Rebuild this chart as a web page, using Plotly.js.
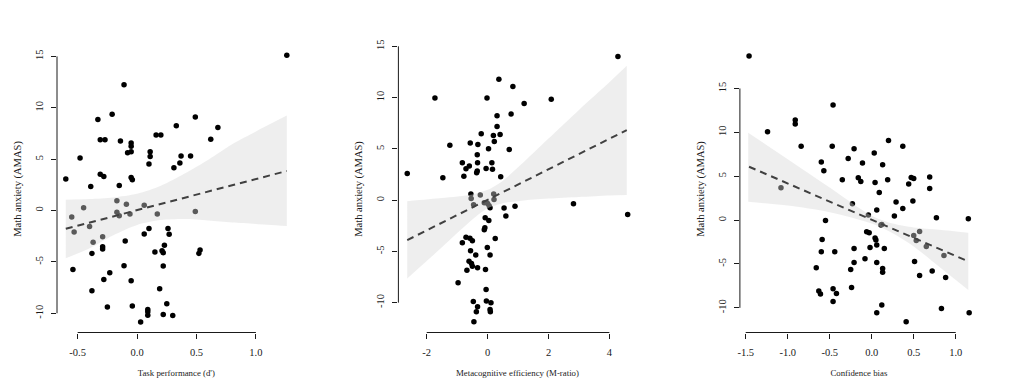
<!DOCTYPE html>
<html>
<head>
<meta charset="utf-8">
<script src="https://cdn.plot.ly/plotly-3.0.1.min.js"></script>
<style>
  html, body { margin: 0; padding: 0; background: #fff; }
  #chart { width: 1024px; height: 390px; }
</style>
</head>
<body>
<div id="chart"></div>
<script>
// ---------- Panel 1: Task performance (d') ----------
const p1x = [-0.60,-0.55,-0.53,-0.54,-0.48,-0.45,-0.40,-0.39,-0.38,-0.38,-0.37,-0.33,-0.31,-0.27,-0.31,-0.28,-0.29,-0.29,-0.29,-0.28,
  -0.23,-0.25,-0.21,-0.17,-0.17,-0.15,-0.15,-0.14,-0.11,-0.11,-0.10,-0.09,-0.08,-0.05,-0.05,-0.05,-0.05,-0.04,-0.06,-0.05,
  -0.04,0.03,0.06,0.06,0.09,0.09,0.09,0.10,0.10,0.11,0.11,0.15,0.16,0.17,0.19,0.20,0.21,0.22,0.22,0.22,
  0.23,0.25,0.26,0.27,0.30,0.31,0.33,0.36,0.37,0.45,0.49,0.49,0.52,0.53,0.62,0.68,1.26];
const p1y = [3.06,-0.62,-2.08,-5.73,5.11,0.26,-1.56,2.34,-4.17,-7.81,-3.09,8.85,6.90,6.90,3.52,3.32,-2.54,-3.52,-3.74,-6.71,
  -6.05,-9.38,9.38,0.94,-0.16,-0.52,2.44,6.77,12.24,-5.37,-2.96,0.62,5.63,5.73,6.58,6.25,3.22,2.99,-0.33,-6.84,
  -9.28,-10.84,0.52,-2.28,-9.64,-10.19,-9.86,-1.76,4.52,5.73,5.27,-4.04,7.36,-0.33,-7.62,7.36,-3.91,-4.10,-10.12,-5.40,
  -3.39,-9.08,-1.76,-2.31,-10.22,4.17,8.24,4.62,5.31,5.31,9.11,-0.10,-4.17,-3.84,6.93,8.07,15.10];
const p1LineX = [-0.60, 1.26];
const p1LineY = [-1.78, 3.85];
const p1BandX = [-0.60,-0.40,-0.20,0.00,0.20,0.40,0.60,0.80,1.00,1.26];
const p1BandUp = [1.05,1.11,1.27,1.63,2.41,3.60,4.95,6.45,7.70,9.24];
const p1BandLo = [-4.65,-3.67,-2.40,-1.40,-0.93,-0.83,-0.97,-1.17,-1.30,-1.50];
const p1XTicks = [-0.5, 0.0, 0.5, 1.0];
const p1XLabels = ["-0.5", "0.0", "0.5", "1.0"];

// ---------- Panel 2: Metacognitive efficiency (M-ratio) ----------
const p2x = [-2.64,-1.73,-1.47,-1.24,-0.97,-0.83,-0.83,-0.78,-0.71,-0.71,-0.68,-0.60,-0.57,-0.58,-0.56,-0.55,-0.54,-0.50,-0.61,-0.53,
  -0.50,-0.47,-0.46,-0.45,-0.39,-0.37,-0.36,-0.34,-0.34,-0.33,-0.32,-0.33,-0.33,-0.24,-0.21,-0.11,-0.11,-0.09,-0.08,-0.07,
  -0.05,-0.05,-0.04,-0.02,-0.01,0.00,0.03,0.04,0.05,0.08,0.08,0.08,0.09,0.11,0.14,0.16,0.19,0.20,0.21,0.22,
  0.25,0.31,0.31,0.37,0.41,0.43,0.54,0.60,0.71,0.77,0.83,0.90,1.20,2.09,2.82,4.28,4.60];
const p2y = [2.60,9.95,2.18,5.36,-8.06,3.64,-4.16,2.34,3.06,-3.61,-6.83,3.32,5.56,-3.71,-4.94,0.59,0.16,-3.97,-5.95,-6.18,
  -6.44,-9.88,-0.46,-11.87,-5.36,-10.89,2.67,2.83,4.42,3.64,5.43,-6.60,-10.40,0.49,6.47,-0.26,-2.89,-2.70,-1.72,-6.76,
  3.09,-8.71,-9.85,9.95,-4.62,-0.33,5.01,-1.98,-0.55,-0.75,-5.36,-10.66,-10.89,-10.01,3.64,3.02,6.31,0.59,0.07,5.72,
  -3.74,8.23,7.18,11.80,6.40,2.28,-0.78,-1.56,4.94,8.39,11.09,-0.59,9.43,9.85,-0.36,14.01,-1.40];
const p2LineX = [-2.64, 4.57];
const p2LineY = [-3.90, 6.83];
const p2BandX = [-2.64,-1.50,-0.50,0.00,0.50,1.00,1.50,2.00,3.00,4.00,4.57];
const p2BandUp = [-0.10,0.20,0.55,1.00,1.90,3.20,4.60,6.00,8.80,11.50,13.10];
const p2BandLo = [-7.64,-4.60,-1.90,-0.80,-0.30,-0.10,0.05,0.15,0.30,0.45,0.49];
const p2XTicks = [-2, 0, 2, 4];
const p2XLabels = ["-2", "0", "2", "4"];

// ---------- Panel 3: Confidence bias ----------
const p3x = [-1.46,-1.24,-1.08,-0.91,-0.91,-0.84,-0.66,-0.63,-0.61,-0.60,-0.59,-0.60,-0.57,-0.55,-0.47,-0.46,-0.46,-0.46,-0.44,-0.42,
  -0.35,-0.28,-0.25,-0.24,-0.23,-0.21,-0.21,-0.21,-0.16,-0.13,-0.11,-0.08,-0.06,-0.04,-0.03,-0.02,0.03,0.04,0.04,0.05,
  0.06,0.06,0.06,0.06,0.09,0.11,0.12,0.12,0.13,0.13,0.13,0.15,0.19,0.20,0.27,0.29,0.37,0.37,0.41,0.44,
  0.47,0.49,0.50,0.50,0.51,0.53,0.57,0.57,0.65,0.69,0.69,0.72,0.77,0.83,0.86,0.88,1.15,1.16];
const p3y = [18.69,10.07,3.69,11.40,10.94,8.43,-5.43,-8.09,-8.43,6.61,-2.20,-3.61,5.62,-0.04,8.43,13.11,-7.83,-9.27,-3.61,-8.36,
  4.60,7.03,-5.62,-7.67,1.86,8.13,-3.23,-4.83,4.83,4.41,6.50,-4.41,-1.33,0.57,-1.44,-3.12,7.64,4.29,-2.05,-2.28,
  1.14,-2.85,-4.83,-10.56,3.15,-0.57,-0.49,-9.69,6.31,-5.51,-5.93,-3.23,4.60,9.08,0.46,2.05,8.43,1.33,-11.59,4.10,
  4.86,2.17,4.75,-1.75,-4.71,-2.32,-1.29,-6.31,-3.00,4.90,3.61,-5.81,0.27,-10.07,-4.03,-6.53,0.15,-10.56];
const p3LineX = [-1.46, 1.15];
const p3LineY = [6.08, -4.71];
const p3BandX = [-1.47,-1.00,-0.50,0.00,0.25,0.50,0.80,1.15];
const p3BandUp = [9.96,6.94,3.72,0.50,-0.40,-0.85,-1.10,-1.44];
const p3BandLo = [2.09,1.65,0.90,-0.40,-1.50,-3.00,-5.30,-7.98];
const p3XTicks = [-1.5, -1.0, -0.5, 0.0, 0.5, 1.0];
const p3XLabels = ["-1.5", "-1.0", "-0.5", "0.0", "0.5", "1.0"];

const yTicks = [-10, -5, 0, 5, 10, 15];
const yLabels = ["-10", "-5", "0", "5", "10", "15"];
const yTitle = "Math anxiety (AMAS)";
const xTitles = ["Task performance (d')", "Metacognitive efficiency (M-ratio)", "Confidence bias"];

// ---------- build ----------
const FONT = "Liberation Serif, Times New Roman, serif";
const INK = "#1a1a1a";
const W = 1024, H = 390;
const panels = [
  {x: p1x, y: p1y, lx: p1LineX, ly: p1LineY, bx: p1BandX, bu: p1BandUp, bl: p1BandLo, xt: p1XTicks, xl: p1XLabels,
   xr: [-0.674, 1.334], yr: [-11.87, 16.07], px: [57, 295.6]},
  {x: p2x, y: p2y, lx: p2LineX, ly: p2LineY, bx: p2BandX, bu: p2BandUp, bl: p2BandLo, xt: p2XTicks, xl: p2XLabels,
   xr: [-2.93, 4.89], yr: [-12.91, 15.09], px: [398.4, 636.5]},
  {x: p3x, y: p3y, lx: p3LineX, ly: p3LineY, bx: p3BandX, bu: p3BandUp, bl: p3BandLo, xt: p3XTicks, xl: p3XLabels,
   xr: [-1.569, 1.264], yr: [-12.81, 19.91], px: [739.9, 977.9]}
];
const yDomain = [1 - 332.5 / H, 1 - 45.4 / H];

const data = [];
const layout = {
  width: W, height: H,
  margin: {l: 0, r: 0, t: 0, b: 0},
  paper_bgcolor: "#fff", plot_bgcolor: "#fff",
  showlegend: false,
  font: {family: FONT, color: INK},
  shapes: []
};

panels.forEach((p, i) => {
  const n = i === 0 ? "" : String(i + 1);
  const xa = "x" + n, ya = "y" + n;
  data.push({type: "scatter", mode: "markers", x: p.x, y: p.y, xaxis: xa, yaxis: ya,
    marker: {color: "#000", size: 5.5}, hoverinfo: "skip"});
  data.push({type: "scatter", mode: "lines", x: p.bx, y: p.bl, xaxis: xa, yaxis: ya,
    line: {width: 0, shape: "spline", smoothing: 0.8}, hoverinfo: "skip"});
  data.push({type: "scatter", mode: "lines", x: p.bx, y: p.bu, xaxis: xa, yaxis: ya,
    fill: "tonexty", fillcolor: "rgba(214,214,214,0.42)",
    line: {width: 0, shape: "spline", smoothing: 0.8}, hoverinfo: "skip"});
  data.push({type: "scatter", mode: "lines", x: p.lx, y: p.ly, xaxis: xa, yaxis: ya,
    line: {color: "#404040", width: 2, dash: "7px,5px"}, hoverinfo: "skip"});

  layout["xaxis" + n] = {
    domain: [p.px[0] / W, p.px[1] / W], range: p.xr, anchor: ya,
    tickmode: "array", tickvals: p.xt, ticktext: p.xl,
    ticks: "outside", ticklen: 5, tickwidth: 1, tickcolor: INK,
    ticklabelstandoff: 5,
    showgrid: false, zeroline: false, showline: false, fixedrange: true,
    tickfont: {family: FONT, size: 10.5, color: INK},
    title: {text: xTitles[i], font: {family: FONT, size: 8.8, color: INK}, standoff: 12}
  };
  layout["yaxis" + n] = {
    domain: yDomain, range: p.yr, anchor: xa,
    tickmode: "array", tickvals: yTicks, ticktext: yLabels, tickangle: -90,
    ticks: "outside", ticklen: 5, tickwidth: 1, tickcolor: INK,
    ticklabelstandoff: 4,
    showgrid: false, zeroline: false, showline: false, fixedrange: true,
    tickfont: {family: FONT, size: 10.5, color: INK},
    title: {text: yTitle, font: {family: FONT, size: 10.5, color: INK}, standoff: 10}
  };
  layout.shapes.push({type: "line", xref: xa, yref: ya + " domain",
    x0: p.xt[0], x1: p.xt[p.xt.length - 1], y0: 0, y1: 0, line: {color: INK, width: 1}});
  layout.shapes.push({type: "line", xref: xa + " domain", yref: ya,
    x0: 0, x1: 0, y0: yTicks[0], y1: yTicks[yTicks.length - 1], line: {color: INK, width: 1}});
});

Plotly.newPlot("chart", data, layout, {staticPlot: true, displayModeBar: false});
</script>
</body>
</html>
